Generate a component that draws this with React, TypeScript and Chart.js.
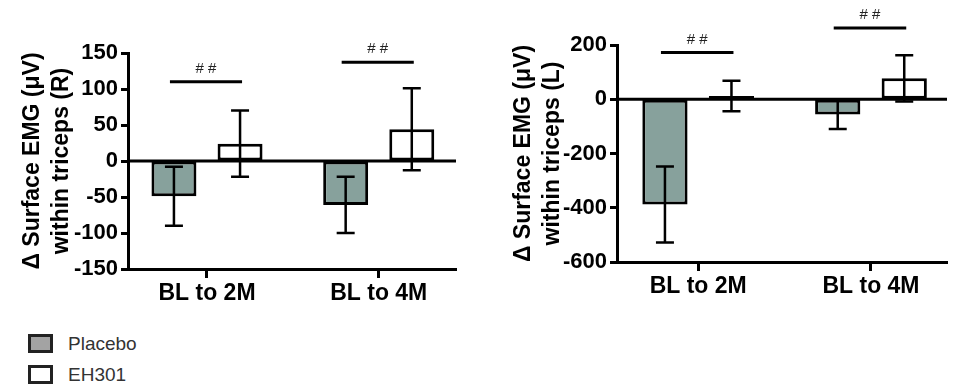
import React, { useEffect, useRef } from 'react';
import { Chart, registerables } from 'chart.js';

Chart.register(...registerables);

// ---------- data ----------
const categories = ['BL to 2M', 'BL to 4M'];
const seriesNames = ['Placebo', 'EH301'];

// Right triceps (R)
const rPlacebo = [-49, -61];
const rPlaceboErr = [41, 39];
const rEH301 = [24, 44];
const rEH301Err = [46, 57];
const rSigLevels = [110, 137];
const rYTicks = [-150, -100, -50, 0, 50, 100, 150];

// Left triceps (L)
const lPlacebo = [-388, -56];
const lPlaceboErr = [140, 54];
const lEH301 = [12, 77];
const lEH301Err = [56, 85];
const lSigLevels = [172, 263];
const lYTicks = [-600, -400, -200, 0, 200];

const sigText = '# #';

// ---------- styles ----------
const FONT = "'Liberation Sans', Arial, Helvetica, sans-serif";
const PLACEBO_FILL = '#87a19c';
const EH_FILL = '#ffffff';

const annotPlugin = {
  id: 'annot',
  afterDatasetsDraw(chart: any, _args: any, opts: any) {
    const { ctx, chartArea, scales } = chart;
    const y = scales.y;
    ctx.save();
    // zero line
    ctx.strokeStyle = '#000';
    ctx.lineWidth = 3;
    ctx.beginPath();
    const y0 = y.getPixelForValue(0);
    ctx.moveTo(chartArea.left, y0);
    ctx.lineTo(chartArea.right, y0);
    ctx.stroke();

    // error bars
    ctx.lineWidth = 2.5;
    const errs: number[][] = opts.errors;
    chart.data.datasets.forEach((ds: any, di: number) => {
      const meta = chart.getDatasetMeta(di);
      meta.data.forEach((bar: any, i: number) => {
        const v = ds.data[i].y;
        const e = errs[di][i];
        const bx = bar.x;
        const yt = y.getPixelForValue(v + e);
        const yb = y.getPixelForValue(v - e);
        ctx.beginPath();
        ctx.moveTo(bx, yt);
        ctx.lineTo(bx, yb);
        ctx.moveTo(bx - 9, yt);
        ctx.lineTo(bx + 9, yt);
        ctx.moveTo(bx - 9, yb);
        ctx.lineTo(bx + 9, yb);
        ctx.stroke();
      });
    });

    // significance lines
    const sig: number[] = opts.sig;
    const m0 = chart.getDatasetMeta(0);
    const m1 = chart.getDatasetMeta(1);
    ctx.lineWidth = 3;
    ctx.fillStyle = '#222';
    ctx.font = `15px ${FONT}`;
    ctx.textAlign = 'center';
    ctx.textBaseline = 'alphabetic';
    sig.forEach((lvl, i) => {
      const x1 = m0.data[i].x - 4;
      const x2 = m1.data[i].x + 2;
      const yy = y.getPixelForValue(lvl);
      ctx.beginPath();
      ctx.moveTo(x1, yy);
      ctx.lineTo(x2, yy);
      ctx.stroke();
      ctx.fillText(sigText, (x1 + x2) / 2, yy - 9);
    });
    ctx.restore();
  },
};

type PanelProps = {
  width: number;
  height: number;
  placebo: number[];
  placeboErr: number[];
  eh: number[];
  ehErr: number[];
  sig: number[];
  yTicks: number[];
  title: string[];
  yWidth: number;
  xHeight: number;
  padTop: number;
  padRight: number;
  xMin: number;
  xMax: number;
  titlePad: number;
};

function Panel(p: PanelProps) {
  const ref = useRef<HTMLCanvasElement | null>(null);
  useEffect(() => {
    if (!ref.current) return;
    const chart = new Chart(ref.current, {
      type: 'bar',
      data: {
        datasets: [
          {
            label: seriesNames[0],
            data: p.placebo.map((v, i) => ({ x: i, y: v })),
            backgroundColor: PLACEBO_FILL,
            borderColor: '#000',
            borderWidth: 3,
            borderSkipped: false,
          },
          {
            label: seriesNames[1],
            data: p.eh.map((v, i) => ({ x: i, y: v })),
            backgroundColor: EH_FILL,
            borderColor: '#000',
            borderWidth: 3,
            borderSkipped: false,
          },
        ],
      },
      options: {
        responsive: false,
        animation: false,
        categoryPercentage: 0.77,
        barPercentage: 0.68,
        layout: { padding: { left: 0, top: p.padTop, right: p.padRight, bottom: 0 } },
        plugins: {
          legend: { display: false },
          tooltip: { enabled: false },
          annot: { errors: [p.placeboErr, p.ehErr], sig: p.sig },
        } as any,
        scales: {
          x: {
            type: 'linear',
            min: p.xMin,
            max: p.xMax,
            offset: false,
            afterBuildTicks: (s: any) => {
              s.ticks = categories.map((_, i) => ({ value: i }));
            },
            ticks: {
              callback: (v: any) => categories[Math.round(v)] ?? '',
              color: '#000',
              font: { family: FONT, size: 23, weight: 'bold' },
              padding: 2,
              maxRotation: 0,
              autoSkip: false,
            },
            grid: {
              offset: false,
              drawOnChartArea: false,
              drawTicks: true,
              tickLength: 9,
              tickWidth: 3,
              tickColor: '#000',
            },
            border: { display: true, width: 3, color: '#000' },
            afterFit: (s: any) => {
              s.height = p.xHeight;
            },
          },
          y: {
            min: p.yTicks[0],
            max: p.yTicks[p.yTicks.length - 1],
            afterBuildTicks: (s: any) => {
              s.ticks = p.yTicks.map((v) => ({ value: v }));
            },
            ticks: {
              color: '#000',
              font: { family: FONT, size: 22, weight: 'bold' },
              padding: 3,
            },
            grid: {
              drawOnChartArea: false,
              drawTicks: true,
              tickLength: 7,
              tickWidth: 3,
              tickColor: '#000',
            },
            border: { display: true, width: 3, color: '#000' },
            title: {
              display: true,
              text: p.title,
              color: '#000',
              font: { family: FONT, size: 23, weight: 'bold', lineHeight: 1.27 },
              padding: { top: p.titlePad, bottom: 0 },
            },
            afterFit: (s: any) => {
              s.width = p.yWidth;
            },
          },
        },
      } as any,
      plugins: [annotPlugin],
    });
    return () => chart.destroy();
  }, []);
  return (
    <canvas
      ref={ref}
      width={p.width}
      height={p.height}
      style={{ width: p.width, height: p.height, display: 'block' }}
    />
  );
}

function LegendItem({ label, fill, top }: { label: string; fill: string; top: number }) {
  return (
    <div style={{ position: 'absolute', left: 28, top, height: 19, display: 'flex', alignItems: 'center' }}>
      <div
        style={{
          width: 19,
          height: 13,
          border: '3px solid #222',
          background: fill,
        }}
      />
      <span
        style={{
          marginLeft: 15,
          fontFamily: FONT,
          fontSize: 19,
          color: '#333',
          lineHeight: '19px',
        }}
      >
        {label}
      </span>
    </div>
  );
}

export default function App() {
  return (
    <div
      style={{
        position: 'absolute',
        left: 0,
        top: 0,
        width: 966,
        height: 390,
        background: '#fff',
        overflow: 'hidden',
      }}
    >
      <div style={{ position: 'absolute', left: 0, top: 0 }}>
        <Panel
          width={480}
          height={310}
          placebo={rPlacebo}
          placeboErr={rPlaceboErr}
          eh={rEH301}
          ehErr={rEH301Err}
          sig={rSigLevels}
          yTicks={rYTicks}
          title={['Δ Surface EMG (μV)', 'within triceps (R)']}
          yWidth={128}
          xHeight={41}
          padTop={53}
          padRight={24}
          xMin={-0.46}
          xMax={1.45}
          titlePad={18}
        />
      </div>
      <div style={{ position: 'absolute', left: 480, top: 0 }}>
        <Panel
          width={486}
          height={310}
          placebo={lPlacebo}
          placeboErr={lPlaceboErr}
          eh={lEH301}
          ehErr={lEH301Err}
          sig={lSigLevels}
          yTicks={lYTicks}
          title={['Δ Surface EMG (μV)', 'within triceps (L)']}
          yWidth={137}
          xHeight={48}
          padTop={45}
          padRight={19}
          xMin={-0.47}
          xMax={1.44}
          titlePad={29}
        />
      </div>
      <LegendItem label={seriesNames[0]} fill="#a3a3a3" top={334} />
      <LegendItem label={seriesNames[1]} fill={EH_FILL} top={365} />
    </div>
  );
}
